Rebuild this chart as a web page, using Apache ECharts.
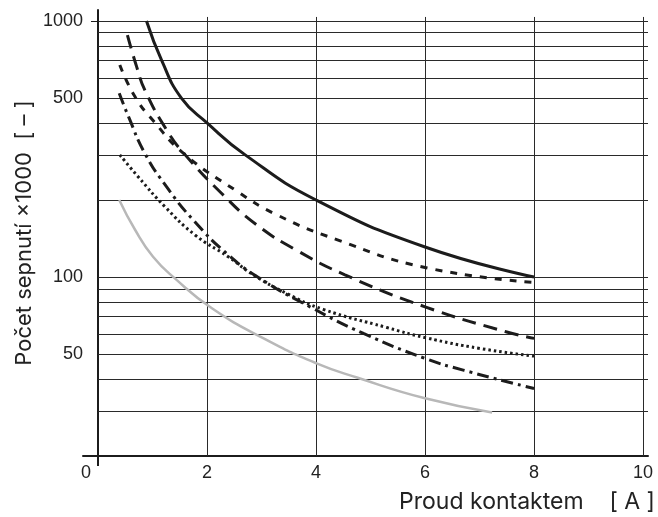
<!DOCTYPE html>
<html>
<head>
<meta charset="utf-8">
<script src="https://cdn.jsdelivr.net/npm/echarts@6/dist/echarts.min.js"></script>
<style>html,body{margin:0;padding:0;background:#fff}#c{width:658px;height:517px}</style>
</head>
<body>
<div id="c"></div>
<script>
// x-axis tick labels and y-axis tick labels
const xTickLabels = [0, 2, 4, 6, 8, 10];
const yTickLabels = [50, 100, 500, 1000];
// gridlines
const yGridValues = [30, 40, 50, 60, 70, 80, 90, 100, 200, 300, 400, 500, 600, 700, 800, 900, 1000];
const xGridValues = [2, 4, 6, 8, 10];

// curves: [current A, switching cycles x1000]
const curveSolid = [[0.89,1000],[1.17,700],[1.53,500],[2,400],[2.7,300],[4,200],[6,131],[8,100]];
const curveShortDash = [[0.4,673],[0.68,506],[1.03,404],[1.57,304],[2.54,217],[3.28,175],[4.38,140],[6,109],[8,95.3]];
const curveLongDash = [[0.54,881],[0.71,662],[0.86,537],[1.26,375],[1.6,300],[2.27,212],[2.91,160],[3.65,127],[4.53,102],[6,76.5],[7.5,61],[8,57.6]];
const curveDashDot = [[0.39,522],[0.56,423],[0.86,304],[1.26,225],[1.78,164],[2.39,122],[2.97,98.8],[3.89,76.5],[4.87,60.2],[6,48.1],[6.7,43.3],[8,36.7]];
const curveDotted = [[0.4,300],[0.74,246],[1.23,188],[1.78,146],[2.39,120],[2.85,102],[3.46,86.3],[4.13,74.8],[5.3,63.5],[6,58],[7.01,52.6],[8,49.1]];
const curveGray = [[0.39,200],[0.68,153],[1.01,120],[1.41,98.8],[2.09,75.5],[3.03,57.7],[4.01,46],[4.75,40.5],[6,33.6],[7.23,29.6]];

const X_MIN = -0.275, X_MAX = 10.09, Y_MIN = 20, Y_MAX = 1104, V_TOP = 1037;
const FONT = "'Liberation Sans', Arial, sans-serif";
const TFONT = "Inter, 'Liberation Sans', sans-serif";
const INK = '#1c1c1c';

const gridLines = []
  .concat(yGridValues.map(v => [{coord:[0, v]}, {coord:[X_MAX, v]}]))
  .concat(xGridValues.map(v => [{coord:[v, Y_MIN]}, {coord:[v, V_TOP]}]));

function curve(data, style) {
  return {
    type: 'line', data: data, smooth: 0.5, symbol: 'none', silent: true,
    lineStyle: Object.assign({color: INK, width: 3, cap: 'butt'}, style), z: 5
  };
}

const chart = echarts.init(document.getElementById('c'), null, {renderer: 'canvas'});
chart.setOption({
  animation: false,
  backgroundColor: '#fff',
  textStyle: {fontFamily: FONT},
  title: {
    text: 'Proud kontaktem    [ A ]', right: 3, top: 491, padding: 0,
    textStyle: {fontFamily: TFONT, fontSize: 23, fontWeight: 'normal', color: '#222'}
  },
  grid: {left: 83, right: 10, top: 10, bottom: 61, containLabel: false, outerBoundsMode: 'none'},
  xAxis: {
    type: 'value', min: X_MIN, max: X_MAX,
    axisLine: {onZero: false, lineStyle: {color: INK, width: 2}},
    axisTick: {show: true, customValues: [0], length: 10, lineStyle: {color: INK, width: 2}},
    axisLabel: {
      customValues: xTickLabels, margin: 8, fontSize: 18, color: '#222', fontFamily: FONT,
      formatter: v => v === 0 ? '{z|0}' : String(v),
      rich: {z: {fontSize: 18, color: '#222', fontFamily: FONT, padding: [0, 24, 0, 0]}}
    },
    splitLine: {show: false}
  },
  yAxis: {
    type: 'log', logBase: 10, min: Y_MIN, max: Y_MAX,
    name: 'Počet sepnutí ×1000  [ – ]', nameLocation: 'middle', nameRotate: 90, nameGap: 48,
    nameMoveOverlap: false,
    nameTextStyle: {fontSize: 22, color: '#222', fontFamily: TFONT},
    axisLine: {onZero: true, lineStyle: {color: INK, width: 2}},
    axisTick: {show: true, customValues: [1000], length: 7, lineStyle: {color: INK, width: 1}},
    axisLabel: {customValues: yTickLabels, margin: 0, fontSize: 18, color: '#222', fontFamily: FONT,
      formatter: v => String(Math.round(v))},
    splitLine: {show: false}, minorSplitLine: {show: false}
  },
  series: [
    {
      type: 'line', data: [], silent: true, z: 1,
      markLine: {
        silent: true, symbol: ['none', 'none'], animation: false,
        label: {show: false},
        lineStyle: {color: '#2a2a2a', width: 1, type: 'solid'},
        emphasis: {disabled: true},
        data: gridLines
      }
    },
    curve(curveGray, {color: '#b8b8b8', width: 2.5}),
    curve(curveDotted, {width: 3, type: [2.5, 3]}),
    curve(curveDashDot, {width: 3, type: [12, 5, 3, 5]}),
    curve(curveLongDash, {width: 3, type: [14, 8]}),
    curve(curveShortDash, {width: 3, type: [7, 8]}),
    curve(curveSolid, {width: 3})
  ]
});
</script>
</body>
</html>
